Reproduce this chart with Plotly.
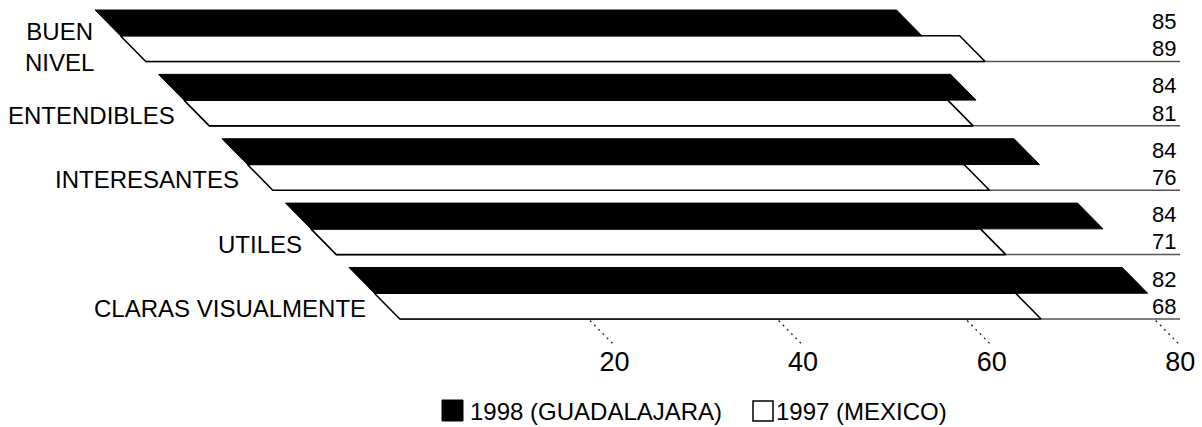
import plotly.graph_objects as go

# ---------------- data ----------------
categories = ["BUEN NIVEL", "ENTENDIBLES", "INTERESANTES", "UTILES", "CLARAS VISUALMENTE"]
category_text = ["BUEN<br>NIVEL", "ENTENDIBLES", "INTERESANTES", "UTILES", "CLARAS VISUALMENTE"]
guadalajara_1998 = [85, 84, 84, 84, 82]
mexico_1997 = [89, 81, 76, 71, 68]
axis_ticks = [20, 40, 60, 80]
series_names = ["1998 (GUADALAJARA)", "1997 (MEXICO)"]

# ---------------- layout constants (oblique projection) ----------------
W, H = 1202, 427
PX_PER_UNIT = 9.43      # screen px per value unit
ORIGIN_X = 95           # screen x of value 0 at the back edge
ORIGIN_Y = 10           # screen y of the back edge
ROW_PX_Y = 25.75        # screen px per depth unit (vertical)
ROW_PX_X = 25.4         # screen px per depth unit (horizontal shift)
GROUP_STEP = 2.5        # depth units per category (2 bars + gap)
K = ROW_PX_X / PX_PER_UNIT
FONT = "Arial, Liberation Sans, sans-serif"


def proj(v, d):
    """oblique projection: value v at depth d -> axis coordinates"""
    return v + d * K, d


def px_to_x(px):
    return (px - ORIGIN_X) / PX_PER_UNIT


def bar_polygon(v, d0, d1):
    pts = [(0, d0), (v, d0), (v, d1), (0, d1), (0, d0)]
    xs, ys = zip(*[proj(a, b) for a, b in pts])
    return list(xs), list(ys)


fig = go.Figure()

n = len(categories)
line_end_x = px_to_x(1180)

# group baselines (under the front bar, extending to the label column)
for i in range(n):
    d_bottom = i * GROUP_STEP + 2
    x0, _ = proj(0, d_bottom)
    fig.add_trace(go.Scatter(x=[x0, line_end_x], y=[d_bottom, d_bottom], mode="lines",
                             line=dict(color="#555555", width=1.5),
                             showlegend=False, hoverinfo="skip"))

# bars
for i in range(n):
    d0 = i * GROUP_STEP
    xs, ys = bar_polygon(mexico_1997[i], d0 + 1, d0 + 2)
    fig.add_trace(go.Scatter(x=xs, y=ys, mode="lines", fill="toself", fillcolor="white",
                             line=dict(color="black", width=1.6), name=series_names[1],
                             showlegend=False, hoverinfo="skip"))
    xs, ys = bar_polygon(guadalajara_1998[i], d0, d0 + 1)
    fig.add_trace(go.Scatter(x=xs, y=ys, mode="lines", fill="toself", fillcolor="black",
                             line=dict(color="black", width=1), name=series_names[0],
                             showlegend=False, hoverinfo="skip"))

# axis tick lines (dashed, receding along depth)
d_front = (n - 1) * GROUP_STEP + 2
for t in axis_ticks:
    xa, ya = proj(t, d_front + 0.06)
    xb, yb = proj(t, d_front + 0.95)
    fig.add_trace(go.Scatter(x=[xa, xb], y=[ya, yb], mode="lines",
                             line=dict(color="#222222", width=1.3, dash="2px,4px"),
                             showlegend=False, hoverinfo="skip"))

# axis tick labels
tick_x = [proj(t, d_front + 0.95)[0] + 2 / PX_PER_UNIT for t in axis_ticks]
fig.add_trace(go.Scatter(x=tick_x, y=[d_front + 1.75] * len(axis_ticks), mode="text",
                         text=[str(t) for t in axis_ticks],
                         textfont=dict(family=FONT, size=27, color="black"),
                         showlegend=False, hoverinfo="skip"))

annotations = []
label_x = px_to_x(1178)
for i in range(n):
    d0 = i * GROUP_STEP
    # value labels
    annotations.append(dict(x=label_x, y=d0 + 0.45, xref="x", yref="y", text=str(guadalajara_1998[i]),
                            xanchor="right", yanchor="middle", showarrow=False,
                            font=dict(family=FONT, size=22, color="black")))
    annotations.append(dict(x=label_x, y=d0 + 1.5, xref="x", yref="y", text=str(mexico_1997[i]),
                            xanchor="right", yanchor="middle", showarrow=False,
                            font=dict(family=FONT, size=22, color="black")))
    # category labels
    dc = d0 + 1.6
    cx, _ = proj(0, dc)
    multi = "<br>" in category_text[i]
    annotations.append(dict(x=cx, y=dc - (0.15 if multi else 0), xref="x", yref="y",
                            text=category_text[i], xanchor="right", yanchor="middle",
                            align="center", showarrow=False, xshift=-40 if multi else -22,
                            font=dict(family=FONT, size=24, color="black")))

# legend (drawn as layout shapes + text)
def px_x(px):
    return px / W


def px_y(py):
    return 1 - py / H


shapes = [
    dict(type="rect", xref="paper", yref="paper", x0=px_x(442), x1=px_x(463), y0=px_y(421), y1=px_y(400),
         fillcolor="black", line=dict(color="black", width=1)),
    dict(type="rect", xref="paper", yref="paper", x0=px_x(753), x1=px_x(773), y0=px_y(421), y1=px_y(401),
         fillcolor="white", line=dict(color="black", width=1.5)),
]
annotations.append(dict(x=px_x(468), y=px_y(411), xref="paper", yref="paper", text=series_names[0],
                        xanchor="left", yanchor="middle", showarrow=False,
                        font=dict(family=FONT, size=24, color="black")))
annotations.append(dict(x=px_x(774), y=px_y(411), xref="paper", yref="paper", text=series_names[1],
                        xanchor="left", yanchor="middle", showarrow=False,
                        font=dict(family=FONT, size=24, color="black")))

fig.update_layout(
    width=W, height=H,
    margin=dict(l=0, r=0, t=0, b=0, pad=0),
    paper_bgcolor="white", plot_bgcolor="white",
    showlegend=False, hovermode=False,
    annotations=annotations, shapes=shapes,
    xaxis=dict(range=[px_to_x(0), px_to_x(W)], visible=False, fixedrange=True),
    yaxis=dict(range=[(H - ORIGIN_Y) / ROW_PX_Y, -ORIGIN_Y / ROW_PX_Y], visible=False, fixedrange=True),
)

fig.write_html("out.html", config={"displayModeBar": False, "staticPlot": True},
               post_script="document.body.style.margin='0';document.body.style.overflow='hidden';")
